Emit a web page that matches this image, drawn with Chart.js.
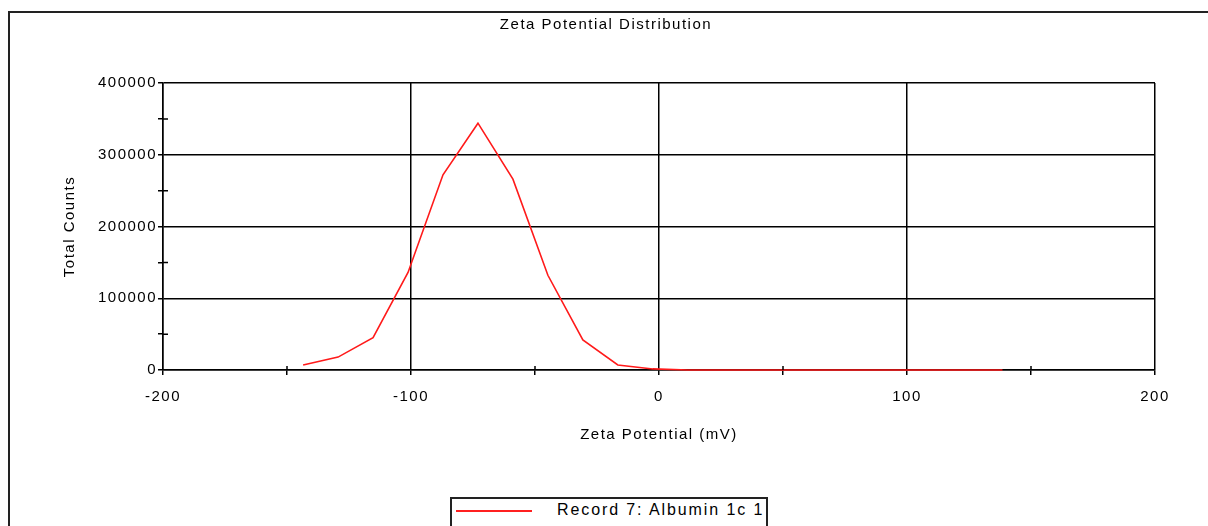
<!DOCTYPE html>
<html lang="en">
<head>
    <meta charset="UTF-8">
    <title>Zeta Potential Distribution</title>
    <script src="https://cdn.jsdelivr.net/npm/chart.js"></script>
    <style>
        html, body {
            margin: 0;
            padding: 0;
            background: #fff;
            overflow: hidden;
            width: 1208px;
            height: 526px;
        }
        .frame {
            position: absolute;
            left: 8px;
            top: 11px;
            width: 1220px;
            height: 540px;
            border: 2px solid #222;
            box-sizing: border-box;
        }
        .wrap {
            position: absolute;
            left: 0;
            top: 0;
            width: 1208px;
            height: 526px;
        }
        .legend {
            position: absolute;
            left: 450px;
            top: 497px;
            width: 318px;
            height: 40px;
            border: 2px solid #222;
            box-sizing: border-box;
            background: #fff;
            font-family: "Liberation Sans", Arial, sans-serif;
            font-size: 16px;
            letter-spacing: 1.9px;
            color: #000;
        }
        .legend .swatch {
            position: absolute;
            left: 4px;
            top: 11px;
            width: 76px;
            height: 2px;
            background: #ff2020;
        }
        .legend .label {
            position: absolute;
            left: 105px;
            top: 2px;
            white-space: nowrap;
        }
    </style>
</head>
<body>
    <div class="frame"></div>
    <div class="wrap"><canvas id="zetaChart" width="1208" height="526"></canvas></div>
    <div class="legend"><span class="swatch"></span><span class="label" id="legendLabel"></span></div>

    <script>
        const recordName = 'Record 7: Albumin 1c 1';
        // zeta potential (mV) and total counts per bin
        const zeta = [-143.5, -129.4, -115.3, -101.2, -87.1, -73.0, -58.9, -44.8, -30.7, -16.6, -2.5,
                      11.6, 25.7, 39.8, 53.9, 68.0, 82.1, 96.2, 110.3, 124.4, 138.5];
        const counts = [7000, 18000, 45000, 136000, 272000, 344000, 266000, 132000, 42000, 7000, 1500,
                        0, 0, 0, 0, 0, 0, 0, 0, 0, 0];
        const xTicks = [-200, -100, 0, 100, 200];
        const yTicks = [0, 100000, 200000, 300000, 400000];

        document.getElementById('legendLabel').textContent = recordName;

        const FONT = { family: '"Liberation Sans", Arial, sans-serif', size: 15 };
        const INK = '#000';

        // wide glyph spacing for all canvas text, plus inward minor ticks
        const spacing = {
            id: 'spacing',
            beforeDraw(chart) {
                chart.ctx.letterSpacing = '1.5px';
            },
            afterDraw(chart) {
                const { ctx, scales: { x, y } } = chart;
                ctx.save();
                ctx.strokeStyle = '#000';
                ctx.lineWidth = 1.5;
                ctx.beginPath();
                [-150, -50, 50, 150].forEach(v => {
                    const px = x.getPixelForValue(v);
                    ctx.moveTo(px, y.bottom);
                    ctx.lineTo(px, y.bottom - 4);
                });
                [50000, 150000, 250000, 350000].forEach(v => {
                    const py = y.getPixelForValue(v);
                    ctx.moveTo(x.left, py);
                    ctx.lineTo(x.left + 5, py);
                });
                ctx.stroke();
                ctx.restore();
            }
        };

        new Chart(document.getElementById('zetaChart'), {
            type: 'line',
            data: {
                datasets: [{
                    label: recordName,
                    data: zeta.map((v, i) => ({ x: v, y: counts[i] })),
                    borderColor: '#ff1a1a',
                    borderWidth: 1.6,
                    pointRadius: 0,
                    tension: 0,
                    fill: false,
                    clip: false
                }]
            },
            options: {
                responsive: false,
                animation: false,
                layout: { padding: { left: 57, right: 53, top: 0, bottom: 0 } },
                plugins: {
                    legend: { display: false },
                    tooltip: { enabled: false },
                    title: {
                        display: true,
                        text: 'Zeta Potential Distribution',
                        color: INK,
                        font: { ...FONT, weight: 'normal' },
                        padding: { top: 16, bottom: 49 }
                    }
                },
                scales: {
                    x: {
                        type: 'linear',
                        min: -200,
                        max: 200,
                        afterFit(scale) { scale.height = 156; },
                        ticks: {
                            stepSize: 50,
                            color: INK,
                            font: FONT,
                            padding: 13,
                            maxRotation: 0,
                            autoSkip: false,
                            callback: v => xTicks.includes(v) ? String(v) : ''
                        },
                        grid: {
                            color: c => (c.tick && c.tick.value % 100 === 0) ? '#000' : 'rgba(0,0,0,0)',
                            tickColor: '#000',
                            lineWidth: 1.5,
                            tickLength: 5
                        },
                        border: { display: true, color: '#000', width: 1.5 },
                        title: {
                            display: true,
                            text: 'Zeta Potential (mV)',
                            color: INK,
                            font: FONT,
                            padding: { top: 0, bottom: 82 }
                        }
                    },
                    y: {
                        min: 0,
                        max: 400000,
                        afterFit(scale) { scale.width = 106; },
                        ticks: {
                            stepSize: 50000,
                            color: INK,
                            font: FONT,
                            padding: 1,
                            autoSkip: false,
                            callback: v => yTicks.includes(v) ? String(v) : ''
                        },
                        grid: {
                            color: c => (c.tick && c.tick.value % 100000 === 0) ? '#000' : 'rgba(0,0,0,0)',
                            tickColor: '#000',
                            lineWidth: 1.5,
                            tickLength: 5
                        },
                        border: { display: true, color: '#000', width: 1.5 },
                        title: {
                            display: true,
                            text: 'Total Counts',
                            color: INK,
                            font: FONT,
                            padding: { top: 4, bottom: 0 }
                        }
                    }
                }
            },
            plugins: [spacing]
        });
    </script>
</body>
</html>
